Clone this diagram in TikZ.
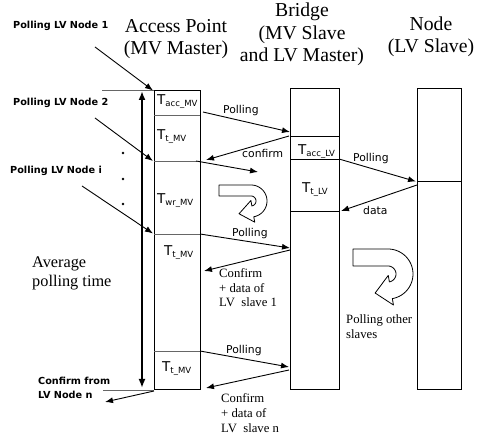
\documentclass[tikz,border=0pt]{standalone}
\usepackage{fontspec}
\setmainfont{Liberation Serif}
\setsansfont{DejaVu Sans}
\usetikzlibrary{arrows.meta}
\newcommand\Tlab[1]{{\sffamily\fontsize{13.5}{15}\selectfont T\raisebox{-2pt}{\fontsize{8.5}{10}\selectfont #1}}}
\newcommand\myuturn[8]{%
  \pgfmathsetmacro\um{(#3+#4)/2}%
  \pgfmathsetmacro\tipx{#1+\um*cos(#6)-#8*sin(#6)}%
  \pgfmathsetmacro\tipy{#2+\um*sin(#6)+#8*cos(#6)}%
  \draw[uturnsty] (#5,{#2-#3}) -- (#1,{#2-#3})
    -- plot[domain=-90:#6, samples=40] ({#1+#3*cos(\x)},{#2+#3*sin(\x)})
    -- ({#1+(\um+#7)*cos(#6)},{#2+(\um+#7)*sin(#6)})
    -- (\tipx,\tipy)
    -- ({#1+(\um-#7)*cos(#6)},{#2+(\um-#7)*sin(#6)})
    -- ({#1+#4*cos(#6)},{#2+#4*sin(#6)})
    -- plot[domain=#6:-90, samples=30] ({#1+#4*cos(\x)},{#2+#4*sin(\x)})
    -- (#5,{#2-#4}) -- cycle;}
\begin{document}
\begin{tikzpicture}[x=1pt,y=-1pt,
  col/.style={draw, line width=0.9pt, inner sep=0pt},
  sepg/.style={draw=black!60, line width=0.9pt},
  sepk/.style={draw, line width=0.9pt},
  msg/.style={-{Latex[length=8pt,width=6pt]}, line width=0.9pt},
  avg/.style={{Latex[length=9pt,width=7pt]}-{Latex[length=9pt,width=7pt]}, line width=1.8pt},
  lbl/.style={font=\sffamily\fontsize{10.8}{13}\selectfont, inner sep=0pt, anchor=base west},
  bl/.style={font=\sffamily\bfseries\fontsize{9.7}{14}\selectfont, inner sep=0pt, anchor=base west, align=left},
  ser/.style={font=\fontsize{12.7}{14.5}\selectfont, inner sep=0pt, anchor=base west, align=left},
  title/.style={font=\fontsize{19.7}{22.5}\selectfont, inner sep=0pt, anchor=base, align=center},
  tl/.style={inner sep=0pt, anchor=base west},
  uturnsty/.style={draw, fill=white, line width=0.8pt, line join=round}]
\useasboundingbox (0,0) rectangle (477,438);

% columns
\node[col, minimum width=46pt, minimum height=299pt] (ap) at (177,239.5) {};
\node[col, minimum width=49pt, minimum height=301pt] (br) at (314.5,238.5) {};
\node[col, minimum width=44pt, minimum height=301pt] (nd) at (439,238.5) {};

% titles (anchor = baseline of last line)
\node[title] (tap) at (176,55) {Access Point\\(MV Master)};
\node[title] (tbr) at (302,62) {Bridge\\(MV Slave\\and LV Master)};
\node[title] (tnd) at (431,53) {Node\\(LV Slave)};

% separator coordinates
\coordinate (a0l) at (102,90);  \coordinate (a0r) at (154,90);
\coordinate (a1l) at (154,115); \coordinate (a1r) at (200,115);
\coordinate (a2l) at (154,161); \coordinate (a2r) at (197,161);
\coordinate (a3l) at (154,234); \coordinate (a3r) at (200,234);
\coordinate (a4l) at (154,351); \coordinate (a4r) at (200,351);
\coordinate (a5l) at (103,390); \coordinate (a5r) at (154,390);
\coordinate (b1l) at (290,136); \coordinate (b1r) at (339,136);
\coordinate (b2l) at (290,159); \coordinate (b2r) at (339,159);
\coordinate (b3l) at (290,211); \coordinate (b3r) at (339,211);
\coordinate (n1l) at (417,181); \coordinate (n1r) at (461,181);
\draw[sepg] (a0l) -- (a0r);
\draw[sepg] (a1l) -- (a1r);
\draw[sepg] (a2l) -- (a2r);
\draw[sepg] (a3l) -- (a3r);
\draw[sepg] (a4l) -- (a4r);
\draw[sepg] (a5l) -- (a5r);
\draw[sepk] (b1l) -- (b1r);
\draw[sepk] (b2l) -- (b2r);
\draw[sepk] (b3l) -- (b3r);
\draw[sepk] (n1l) -- (n1r);

% box labels
\node[tl] (t1) at (157,105) {\Tlab{acc\_MV}};
\node[tl] (t2) at (157,140) {\Tlab{t\_MV}};
\node[tl] (t3) at (157,204) {\Tlab{wr\_MV}};
\node[tl] (t4) at (164,256) {\Tlab{t\_MV}};
\node[tl] (t5) at (162,372) {\Tlab{t\_MV}};
\node[tl] (t6) at (298,155) {\Tlab{acc\_LV}};
\node[tl] (t7) at (302,193) {\Tlab{t\_LV}};

% left labels
\node[bl] (l1) at (13,29) {Polling LV Node 1};
\node[bl] (l2) at (13,106) {Polling LV Node 2};
\node[bl] (l3) at (10,174) {Polling LV Node i};
\node[bl] (l4) at (38,399) {Confirm from\\LV Node n};
\node[font=\fontsize{16.3}{19.5}\selectfont, inner sep=0pt, anchor=base west, align=left] (avgl) at (32,287) {Average\\polling time};

% dots
\fill (123,153) circle (1.4pt);
\fill (123,179) circle (1.4pt);
\fill (123,204) circle (1.4pt);

% arrow end points
\coordinate (p1s) at (95,47);   \coordinate (p1e) at (153,90.5);
\coordinate (p2s) at (95,118);  \coordinate (p2e) at (153,161);
\coordinate (pis) at (82,186);  \coordinate (pie) at (153,233.5);
\coordinate (cns) at (154,391); \coordinate (cne) at (105,402);
\coordinate (vt) at (142,91);   \coordinate (vb) at (142,388);
\coordinate (m1s) at (203,112); \coordinate (m1e) at (290,132);
\coordinate (c1s) at (289,136); \coordinate (c1e) at (206,160);
\coordinate (x1s) at (196,161); \coordinate (x1e) at (258,172);
\coordinate (m2s) at (200,234); \coordinate (m2e) at (290,248);
\coordinate (c2s) at (290,250); \coordinate (c2e) at (204,271);
\coordinate (m3s) at (200,351); \coordinate (m3e) at (289,367);
\coordinate (c3s) at (289,370); \coordinate (c3e) at (206,388);
\coordinate (l1s) at (339,159); \coordinate (l1e) at (416,181.5);
\coordinate (d1s) at (417,185); \coordinate (d1e) at (341,211);

\draw[msg] (p1s) -- (p1e);
\draw[msg] (p2s) -- (p2e);
\draw[msg] (pis) -- (pie);
\draw[msg] (cns) -- (cne);
\draw[avg] (vt) -- (vb);
\draw[msg] (m1s) -- (m1e);
\draw[msg] (c1s) -- (c1e);
\draw[msg] (x1s) -- (x1e);
\draw[msg] (m2s) -- (m2e);
\draw[msg] (c2s) -- (c2e);
\draw[msg] (m3s) -- (m3e);
\draw[msg] (c3s) -- (c3e);
\draw[msg] (l1s) -- (l1e);
\draw[msg] (d1s) -- (d1e);

% message labels
\node[lbl] (ml1) at (223,114) {Polling};
\node[lbl] (ml2) at (242,158) {confirm};
\node[lbl] (ml3) at (232,237) {Polling};
\node[lbl] (ml4) at (226,354) {Polling};
\node[lbl] (ml5) at (353,162) {Polling};
\node[lbl] (ml6) at (363,215) {data};
\node[ser] (cf1) at (219,307) {Confirm\\+ data of\\LV\ \ slave 1};
\node[ser] (cf2) at (221,432) {Confirm\\+ data of\\LV\ \ slave n};
\node[ser, font=\fontsize{12.7}{15.5}\selectfont] (po) at (346,339) {Polling other\\slaves};

% u-turn arrows
\myuturn{251}{201}{16}{5}{219}{80}{11}{14}
\myuturn{388}{274}{25}{8}{353}{80}{15}{16}
\end{tikzpicture}
\end{document}
